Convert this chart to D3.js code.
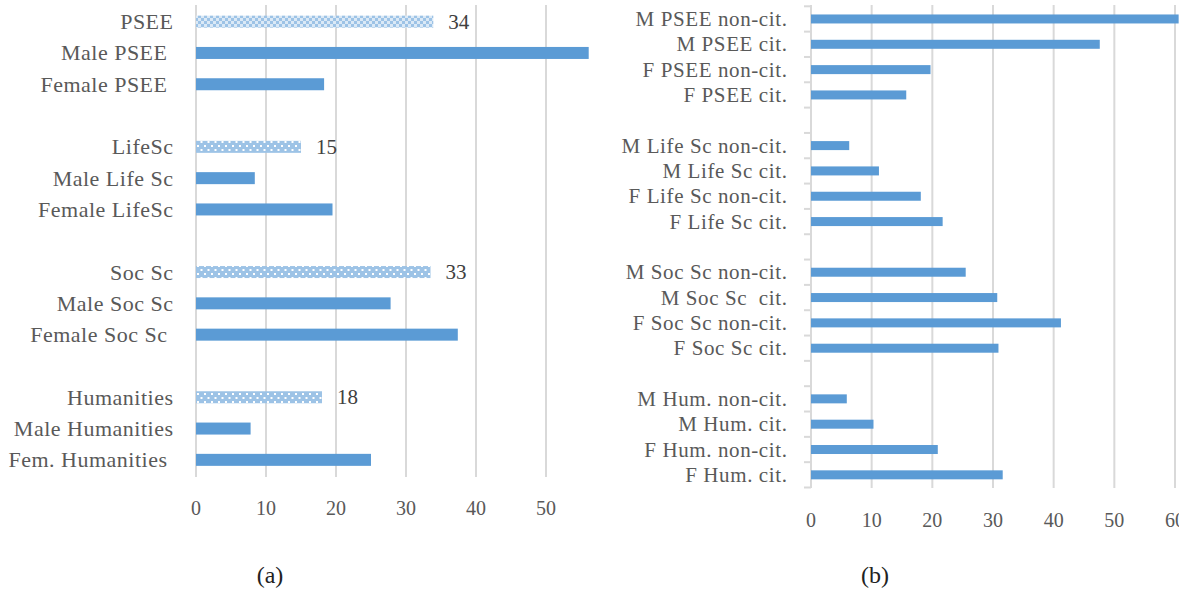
<!DOCTYPE html>
<html>
<head>
<meta charset="utf-8">
<script src="https://cdn.jsdelivr.net/npm/d3@7"></script>
<style>
  body { margin: 0; background: #fff; }
  text { font-family: "Liberation Serif", serif; white-space: pre; }
</style>
</head>
<body>
<svg id="graphic-svg" width="1186" height="592"></svg>
<script>
// panel (a): share of women per field, "" = empty gap row
var labelsA = ["PSEE", "Male PSEE ", "Female PSEE ", "",
               "LifeSc", "Male Life Sc", "Female LifeSc", "",
               "Soc Sc", "Male Soc Sc", "Female Soc Sc ", "",
               "Humanities", "Male Humanities", "Fem. Humanities "];
var valuesA = [33.9, 56.1, 18.3, null,
               15.0, 8.4, 19.5, null,
               33.5, 27.8, 37.4, null,
               18.0, 7.8, 25.0];
var kindsA = ["check", "solid", "solid", null,
              "dots", "solid", "solid", null,
              "dots", "solid", "solid", null,
              "dots", "solid", "solid"];
var valueLabelsA = ["34", "", "", "", "15", "", "", "", "33", "", "", "", "18", "", ""];
var ticksA = [0, 10, 20, 30, 40, 50];

// panel (b): cited / non-cited split
var labelsB = ["M PSEE non-cit.", "M PSEE cit.", "F PSEE non-cit.", "F PSEE cit.", "",
               "M Life Sc non-cit.", "M Life Sc cit.", "F Life Sc non-cit.", "F Life Sc cit.", "",
               "M Soc Sc non-cit.", "M Soc Sc  cit.", "F Soc Sc non-cit.", "F Soc Sc cit.", "",
               "M Hum. non-cit.", "M Hum. cit.", "F Hum. non-cit.", "F Hum. cit."];
var valuesB = [60.6, 47.6, 19.7, 15.7, null,
               6.3, 11.2, 18.1, 21.7, null,
               25.5, 30.7, 41.2, 30.9, null,
               5.9, 10.3, 20.9, 31.6];
var ticksB = [0, 10, 20, 30, 40, 50, 60];

function init() {
  var svg = d3.select("#graphic-svg");
  var grid = "#d9d9d9", barColor = "#5b9bd5", lightBar = "#9dc3e6", textColor = "#595959";

  // patterns for the total bars
  var defs = svg.append("defs");
  var dots = defs.append("pattern")
     .attr("id", "dots").attr("patternUnits", "userSpaceOnUse")
     .attr("width", 7).attr("height", 8);
  dots.append("rect").attr("width", 7).attr("height", 8).attr("fill", lightBar);
  dots.append("rect").attr("x", 1).attr("y", 1).attr("width", 2).attr("height", 2).attr("fill", "#fff");
  dots.append("rect").attr("x", 4.5).attr("y", 5).attr("width", 2).attr("height", 2).attr("fill", "#fff");
  var check = defs.append("pattern")
     .attr("id", "check").attr("patternUnits", "userSpaceOnUse")
     .attr("width", 6).attr("height", 6);
  check.append("rect").attr("width", 6).attr("height", 6).attr("fill", lightBar);
  check.append("rect").attr("width", 3).attr("height", 3).attr("fill", "#dbe9f6");
  check.append("rect").attr("x", 3).attr("y", 3).attr("width", 3).attr("height", 3).attr("fill", "#dbe9f6");

  //////////////////////////////////////////////////////////////////
  // Panel (a)
  var xA = d3.scaleLinear().domain([0, 50]).range([196, 546]);
  var yA = d3.scaleBand().domain(d3.range(labelsA.length)).range([6, 475.5]);
  var rowsA = d3.range(labelsA.length).filter(function(i) { return valuesA[i] !== null; });
  var gA = svg.append("g");

  gA.selectAll(".gridA")
     .data(ticksA)
     .enter()
     .append("line")
     .attr("x1", function(d) { return xA(d); })
     .attr("x2", function(d) { return xA(d); })
     .attr("y1", 5).attr("y2", 477)
     .attr("stroke", grid).attr("stroke-width", 2);

  gA.selectAll(".tickA")
     .data(ticksA)
     .enter()
     .append("text")
     .attr("x", function(d) { return xA(d); })
     .attr("y", 515)
     .attr("text-anchor", "middle")
     .attr("font-size", 20)
     .attr("fill", textColor)
     .text(function(d) { return d; });

  gA.selectAll(".barA")
     .data(rowsA)
     .enter()
     .append("rect")
     .attr("x", xA(0))
     .attr("y", function(i) { return yA(i) + yA.bandwidth() / 2 - 6; })
     .attr("width", function(i) { return xA(valuesA[i]) - xA(0); })
     .attr("height", 12)
     .attr("fill", function(i) {
       if (kindsA[i] == "dots") { return "url(#dots)"; }
       else if (kindsA[i] == "check") { return "url(#check)"; }
       else { return barColor; }
     });

  gA.selectAll(".catA")
     .data(labelsA)
     .enter()
     .append("text")
     .attr("x", 173.5)
     .attr("y", function(d, i) { return yA(i) + yA.bandwidth() / 2; })
     .attr("dy", "0.34em")
     .attr("text-anchor", "end")
     .attr("font-size", 22)
     .attr("letter-spacing", 0.5)
     .attr("fill", textColor)
     .text(function(d) { return d; });

  gA.selectAll(".valA")
     .data(rowsA.filter(function(i) { return valueLabelsA[i] != ""; }))
     .enter()
     .append("text")
     .attr("x", function(i) { return xA(valuesA[i]) + 15; })
     .attr("y", function(i) { return yA(i) + yA.bandwidth() / 2; })
     .attr("dy", "0.34em")
     .attr("font-size", 21)
     .attr("fill", "#404040")
     .text(function(i) { return valueLabelsA[i]; });

  svg.append("text")
     .attr("x", 270).attr("y", 583)
     .attr("text-anchor", "middle")
     .attr("font-size", 24)
     .attr("fill", "#222")
     .text("(a)");

  //////////////////////////////////////////////////////////////////
  // Panel (b)
  var xB = d3.scaleLinear().domain([0, 60]).range([811, 1175]);
  var yB = d3.scaleBand().domain(d3.range(labelsB.length)).range([6.3, 487.5]);
  var rowsB = d3.range(labelsB.length).filter(function(i) { return valuesB[i] !== null; });
  svg.append("clipPath").attr("id", "clipB")
     .append("rect").attr("x", 600).attr("y", 0).attr("width", 579).attr("height", 592);
  var gB = svg.append("g").attr("clip-path", "url(#clipB)");

  gB.selectAll(".gridB")
     .data(ticksB)
     .enter()
     .append("line")
     .attr("x1", function(d) { return xB(d); })
     .attr("x2", function(d) { return xB(d); })
     .attr("y1", 5).attr("y2", 488)
     .attr("stroke", grid).attr("stroke-width", 2);

  // category ticks on the left axis
  gB.selectAll(".ytickB")
     .data(d3.range(labelsB.length + 1))
     .enter()
     .append("line")
     .attr("x1", xB(0) - 7).attr("x2", xB(0))
     .attr("y1", function(d) { return 6.3 + d * yB.step(); })
     .attr("y2", function(d) { return 6.3 + d * yB.step(); })
     .attr("stroke", grid).attr("stroke-width", 2);

  gB.selectAll(".tickB")
     .data(ticksB)
     .enter()
     .append("text")
     .attr("x", function(d) { return xB(d); })
     .attr("y", 527)
     .attr("text-anchor", "middle")
     .attr("font-size", 20)
     .attr("fill", textColor)
     .text(function(d) { return d; });

  gB.selectAll(".barB")
     .data(rowsB)
     .enter()
     .append("rect")
     .attr("x", xB(0))
     .attr("y", function(i) { return yB(i) + yB.bandwidth() / 2 - 4.5; })
     .attr("width", function(i) { return xB(valuesB[i]) - xB(0); })
     .attr("height", 9)
     .attr("fill", barColor);

  gB.selectAll(".catB")
     .data(labelsB)
     .enter()
     .append("text")
     .attr("x", 787.5)
     .attr("y", function(d, i) { return yB(i) + yB.bandwidth() / 2; })
     .attr("dy", "0.34em")
     .attr("text-anchor", "end")
     .attr("font-size", 21)
     .attr("letter-spacing", 0.6)
     .attr("fill", textColor)
     .text(function(d) { return d; });

  svg.append("text")
     .attr("x", 875).attr("y", 583)
     .attr("text-anchor", "middle")
     .attr("font-size", 24)
     .attr("fill", "#222")
     .text("(b)");
};

init();
</script>
</body>
</html>
